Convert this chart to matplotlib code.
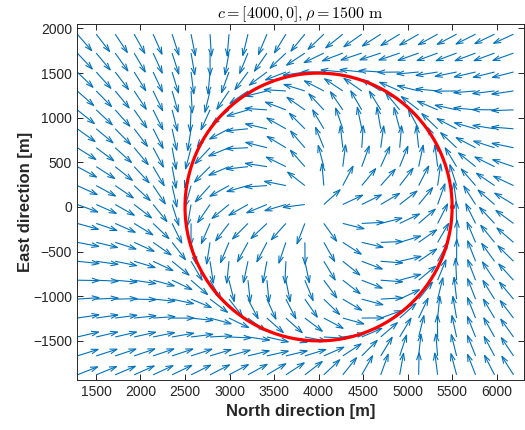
import numpy as np
import matplotlib
matplotlib.use("Agg")
import matplotlib.pyplot as plt
from matplotlib.collections import LineCollection

# circle to follow
CENTER = (4000.0, 0.0)
RHO = 1500.0
K_ORBIT = 3.5           # orbit gain: chi = phi + pi/2 + atan(k (d - rho) / rho)

# quiver grid
GRID_X = np.linspace(1290, 6189, 24)
GRID_Y = np.linspace(-1880, 1936, 19)

X_TICKS = [1500, 2000, 2500, 3000, 3500, 4000, 4500, 5000, 5500, 6000]
Y_TICKS = [-1500, -1000, -500, 0, 500, 1000, 1500, 2000]
X_LIM = (1287, 6307)
Y_LIM = (-1938, 2050)

ARROW_LEN = 245.0
HEAD_ALPHA = 0.33
HEAD_BETA = 0.33

BLUE = "#0072BD"
RED = "#FF0000"
AXC = "#262626"

plt.rcParams["font.family"] = ["Liberation Sans", "DejaVu Sans"]
plt.rcParams["mathtext.fontset"] = "cm"


def course_field(x, y):
    dx, dy = x - CENTER[0], y - CENTER[1]
    d = np.hypot(dx, dy)
    phi = np.arctan2(dy, dx)
    chi = phi + np.pi / 2 + np.arctan(K_ORBIT * (d - RHO) / RHO)
    return np.cos(chi), np.sin(chi)


xx, yy = np.meshgrid(GRID_X, GRID_Y)
uu, vv = course_field(xx, yy)
uu *= ARROW_LEN
vv *= ARROW_LEN

# quiver drawn MATLAB-style: shaft plus open two-line head
segs = []
for x0, y0, u, v in zip(xx.ravel(), yy.ravel(), uu.ravel(), vv.ravel()):
    tx, ty = x0 + u, y0 + v
    segs.append([(x0, y0), (tx, ty)])
    segs.append([(tx - HEAD_ALPHA * (u + HEAD_BETA * v), ty - HEAD_ALPHA * (v - HEAD_BETA * u)), (tx, ty),
                 (tx - HEAD_ALPHA * (u - HEAD_BETA * v), ty - HEAD_ALPHA * (v + HEAD_BETA * u))])

fig = plt.figure(figsize=(5.25, 4.3), dpi=100)
ax = fig.add_axes([77 / 525, 50 / 430, 447 / 525, 356 / 430])

ax.add_collection(LineCollection(segs, colors=BLUE, linewidths=0.8))

theta = np.linspace(0, 2 * np.pi, 400)
ax.plot(CENTER[0] + RHO * np.cos(theta), CENTER[1] + RHO * np.sin(theta), color=RED, lw=2.3)

ax.set_xlim(*X_LIM)
ax.set_ylim(*Y_LIM)
ax.set_xticks(X_TICKS)
ax.set_yticks(Y_TICKS)
ax.tick_params(direction="in", top=True, right=True, length=4, width=0.7,
               colors=AXC, labelsize=10, labelcolor=AXC)
for s in ax.spines.values():
    s.set_color(AXC)
    s.set_linewidth(0.7)

ax.set_xlabel("North direction [m]", fontsize=12, fontweight="bold", color=AXC, labelpad=4)
ax.set_ylabel("East direction [m]", fontsize=12, fontweight="bold", color=AXC, labelpad=0)
ax.set_title(r"$c = [4000, 0], \rho = 1500\ \mathrm{m}$", fontsize=11.5, pad=4)

fig.savefig("out.png", dpi=100)
